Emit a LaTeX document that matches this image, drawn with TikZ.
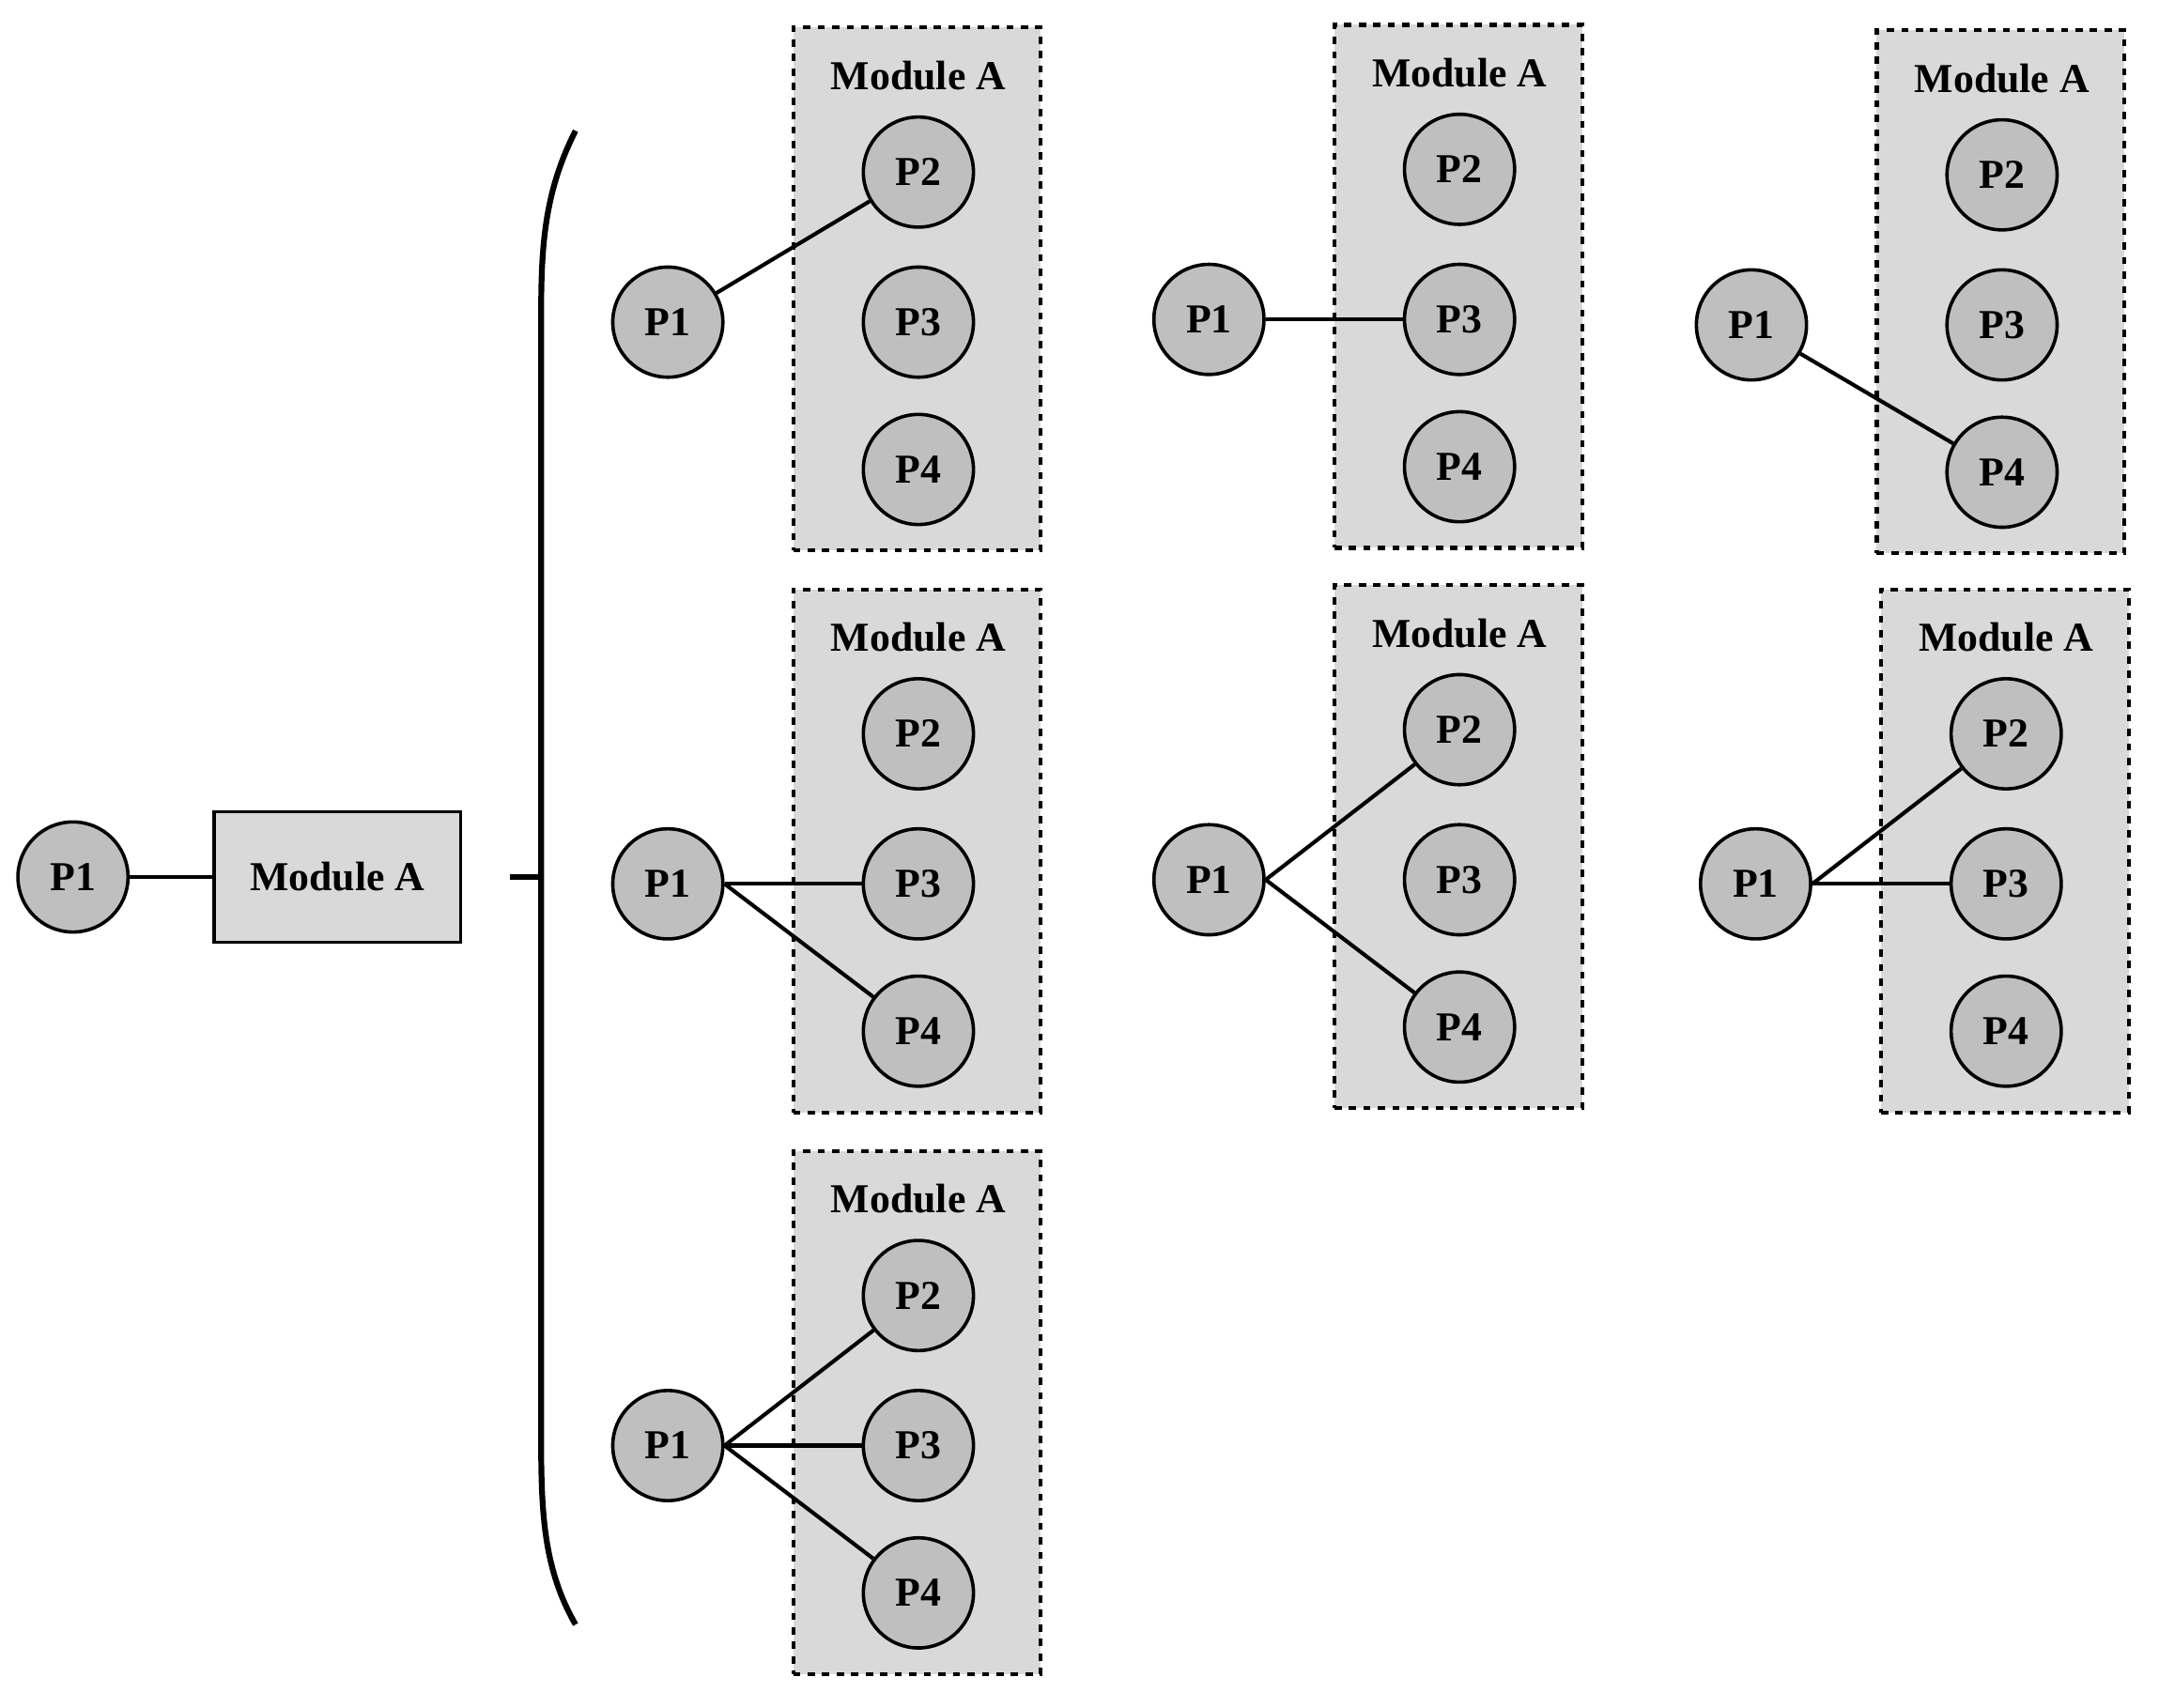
\documentclass[tikz,border=0pt]{standalone}
\usepackage{fontspec}
\setmainfont{Liberation Serif}
\begin{document}
\begin{tikzpicture}[x=0.02cm,y=-0.02cm,
  pc/.style={circle,draw,line width=1.4pt,fill=black!25,minimum size=1.6cm,inner sep=0pt,font=\fontsize{17}{20}\selectfont\bfseries},
  mod/.style={draw,dashed,line width=1.6pt,fill=black!15,minimum width=3.6cm,minimum height=7.6cm,inner sep=0pt},
  ttl/.style={font=\fontsize{17}{20}\selectfont\bfseries},
  ln/.style={line width=1.6pt}]
\useasboundingbox (0,0) rectangle (1568,1240);
\newcommand{\modblock}[3]{%
  \node[mod] (#1box) at (#2+181,#3+190) {};
  \node[ttl] (#1t) at (#2+182,#3+35) {Module A};
  \node[pc] (#1p2) at (#2+182,#3+105) {P2};
  \node[pc] (#1p3) at (#2+182,#3+214) {P3};
  \node[pc] (#1p4) at (#2+182,#3+321) {P4};
  \node[pc] (#1p1) at (#2,#3+214) {P1};}
\node[pc] (L1) at (53,637) {P1};
\node[draw,line width=1.4pt,fill=black!15,minimum width=3.58cm,minimum height=1.9cm,font=\fontsize{17}{20}\selectfont\bfseries] (LA) at (245,637) {Module A};
\draw[ln] (L1) -- (LA);
\coordinate (bt) at (418,95); \coordinate (bb) at (418,1180);
\coordinate (bm) at (393,637); \coordinate (bk) at (370,637);
\draw[line width=2.4pt] (bt) .. controls (395,140) and (393,180) .. (393,230) -- (393,1045) .. controls (393,1100) and (395,1140) .. (bb);
\draw[line width=2.4pt] (bk) -- (bm);
\modblock{a}{485}{20}
\modblock{b}{878}{18}
\modblock{c}{1272}{22}
\modblock{d}{485}{428}
\modblock{e}{878}{425}
\modblock{f}{1275}{428}
\modblock{g}{485}{836}
\draw[ln] (ap1) -- (ap2);
\draw[ln] (bp1) -- (bp3);
\draw[ln] (cp1) -- (cp4);
\draw[ln] (dp1) -- (dp3); \draw[ln] (dp1.east) -- (dp4);
\draw[ln] (ep1.east) -- (ep2); \draw[ln] (ep1.east) -- (ep4);
\draw[ln] (fp1.east) -- (fp2); \draw[ln] (fp1) -- (fp3);
\draw[ln] (gp1.east) -- (gp2); \draw[ln] (gp1) -- (gp3); \draw[ln] (gp1.east) -- (gp4);
\end{tikzpicture}
\end{document}
